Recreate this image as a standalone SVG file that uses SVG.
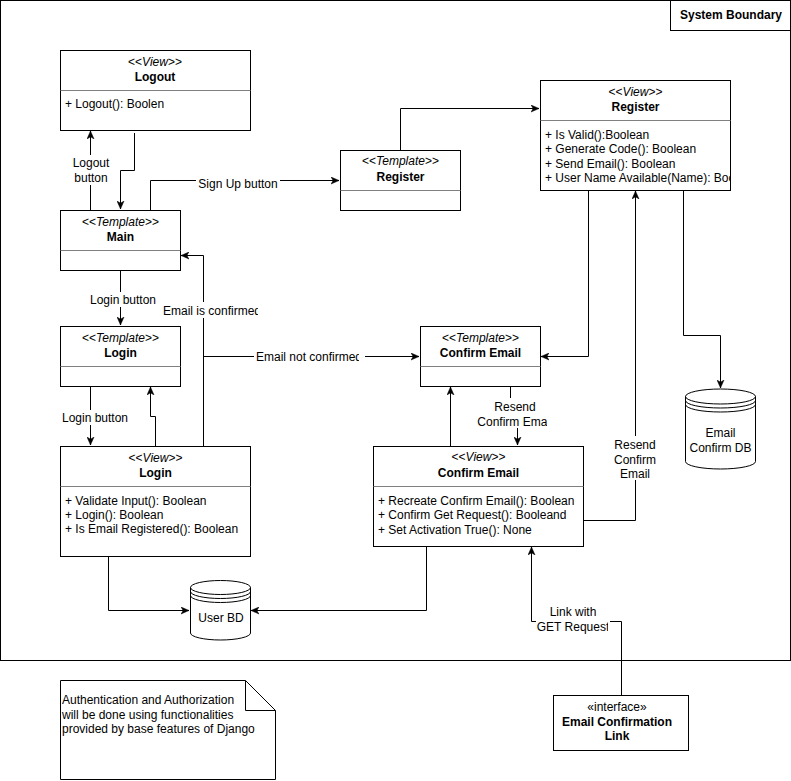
<svg xmlns="http://www.w3.org/2000/svg" width="791" height="781" viewBox="0 0 791 781">
<style>
.box{fill:#fff;stroke:#000;stroke-width:1}
.dv{stroke:#808080;stroke-width:1}
.t{font-family:"Liberation Sans",Arial,sans-serif;font-size:12px;fill:#000}
.c{text-anchor:middle}
.b{font-weight:bold}
.i{font-style:italic}
.edge{fill:none;stroke:#000;stroke-width:1;marker-end:url(#arr)}
.ln{fill:none;stroke:#000;stroke-width:1}
.bg{fill:#fff}
</style>
<defs>
<marker id="arr" markerUnits="userSpaceOnUse" markerWidth="9" markerHeight="8" refX="8" refY="4" orient="auto" viewBox="0 0 9 8">
<path d="M0,0.5 L8,4 L0,7.5 L2.2,4 Z" fill="#000" stroke="#000" stroke-width="0.5"/>
</marker>
<clipPath id="clipReg"><rect x="541" y="121" width="189" height="69"/></clipPath>
<clipPath id="clipConf"><rect x="160" y="300" width="98" height="20"/></clipPath>
<clipPath id="clipNot"><rect x="250" y="345" width="109" height="20"/></clipPath>
<clipPath id="clipEma"><rect x="470" y="410" width="77" height="18"/></clipPath>
<clipPath id="clipGet"><rect x="530" y="615" width="78" height="20"/></clipPath>
</defs>

<g id="system-boundary">
<rect x="0.5" y="0.5" width="790" height="660" fill="none" stroke="#000"/>
<rect x="670.5" y="0.5" width="120" height="30" class="box"/>
<text x="731" y="18.5" class="t c b">System Boundary</text>
</g>

<g id="connectors">
<path class="edge" d="M90.5,210 V131"/>
<rect class="bg" x="70" y="155" width="42" height="30"/>
<text x="91" y="167" class="t c">Logout</text>
<text x="91" y="181.5" class="t c">button</text>

<path class="edge" d="M134.5,133 V170.5 H120.5 V209"/>

<path class="edge" d="M150.5,210 V180.5 H339"/>
<rect class="bg" x="196" y="176" width="84" height="15"/>
<text x="238" y="188" class="t c">Sign Up button</text>

<path class="edge" d="M400.5,150 V108.5 H539"/>

<path class="edge" d="M120.5,270 V325"/>
<rect class="bg" x="88" y="292" width="70" height="15"/>
<text x="123" y="303.5" class="t c">Login button</text>

<path class="edge" d="M90.5,386 V445"/>
<rect class="bg" x="60" y="410" width="70" height="15"/>
<text x="95" y="422" class="t c">Login button</text>

<path class="edge" d="M155.5,446 V416.5 H150.5 V387"/>

<path class="edge" d="M203.5,446 V255.5 H181"/>
<rect class="bg" x="162" y="302" width="100" height="16"/>
<text x="163" y="314.5" class="t" clip-path="url(#clipConf)">Email is confirmed</text>

<path class="edge" d="M203.5,356.5 H419"/>
<rect class="bg" x="254" y="349" width="111" height="15"/>
<text x="256" y="360.5" class="t" clip-path="url(#clipNot)">Email not confirmed</text>

<path class="edge" d="M588.5,190 V356.5 H541"/>

<path class="edge" d="M583,520.5 H635.5 V191"/>
<rect class="bg" x="610" y="436" width="50" height="44"/>
<text x="635" y="449" class="t c">Resend</text>
<text x="635" y="463.5" class="t c">Confirm</text>
<text x="635" y="478" class="t c">Email</text>

<path class="edge" d="M683.5,190 V335.5 H720.5 V388"/>

<path class="edge" d="M510.5,386 V413 H517.5 V445"/>
<rect class="bg" x="475" y="398" width="76" height="30"/>
<text x="515" y="411" class="t c">Resend</text>
<text x="515" y="425.5" class="t c" clip-path="url(#clipEma)">Confirm Email</text>

<path class="edge" d="M450.5,446 V387"/>

<path class="edge" d="M108.5,556 V610.5 H189"/>
<path class="edge" d="M426.5,546 V610.5 H251"/>

<path class="edge" d="M621.5,695 V621.5 H531.5 V547"/>
<rect class="bg" x="536" y="603" width="74" height="31"/>
<text x="573" y="616" class="t c">Link with</text>
<text x="573" y="631" class="t c" clip-path="url(#clipGet)">GET Request</text>
</g>

<g id="logout-view">
<rect x="60.5" y="50.5" width="190" height="80" class="box"/>
<line x1="60.5" y1="90.5" x2="250.5" y2="90.5" class="dv"/>
<text x="155" y="66" class="t c">&lt;&lt;<tspan class="i">View</tspan>&gt;&gt;</text>
<text x="155" y="81" class="t c b">Logout</text>
<text x="65" y="108" class="t">+ Logout(): Boolen</text>
</g>

<g id="main-template">
<rect x="60.5" y="210.5" width="120" height="60" class="box"/>
<line x1="60.5" y1="250.5" x2="180.5" y2="250.5" class="dv"/>
<text x="120.5" y="226" class="t c">&lt;&lt;<tspan class="i">Template</tspan>&gt;&gt;</text>
<text x="120.5" y="241" class="t c b">Main</text>
</g>

<g id="register-template">
<rect x="340.5" y="150.5" width="120" height="60" class="box"/>
<line x1="340.5" y1="190.5" x2="460.5" y2="190.5" class="dv"/>
<text x="400.5" y="165" class="t c">&lt;&lt;<tspan class="i">Template</tspan>&gt;&gt;</text>
<text x="400.5" y="181" class="t c b">Register</text>
</g>

<g id="register-view">
<rect x="540.5" y="80.5" width="190" height="110" class="box"/>
<line x1="540.5" y1="120.5" x2="730.5" y2="120.5" class="dv"/>
<text x="635.5" y="96" class="t c">&lt;&lt;<tspan class="i">View</tspan>&gt;&gt;</text>
<text x="635.5" y="111" class="t c b">Register</text>
<g clip-path="url(#clipReg)">
<text x="545" y="138.5" class="t">+ Is Valid():Boolean</text>
<text x="545" y="153" class="t">+ Generate Code(): Boolean</text>
<text x="545" y="167.5" class="t">+ Send Email(): Boolean</text>
<text x="545" y="181.5" class="t">+ User Name Available(Name): Boolean</text>
</g>
</g>

<g id="login-template">
<rect x="60.5" y="326.5" width="120" height="60" class="box"/>
<line x1="60.5" y1="366.5" x2="180.5" y2="366.5" class="dv"/>
<text x="120.5" y="341.5" class="t c">&lt;&lt;<tspan class="i">Template</tspan>&gt;&gt;</text>
<text x="120.5" y="356.5" class="t c b">Login</text>
</g>

<g id="login-view">
<rect x="60.5" y="446.5" width="190" height="110" class="box"/>
<line x1="60.5" y1="486.5" x2="250.5" y2="486.5" class="dv"/>
<text x="155.5" y="462" class="t c">&lt;&lt;<tspan class="i">View</tspan>&gt;&gt;</text>
<text x="155.5" y="476.5" class="t c b">Login</text>
<text x="65" y="504.5" class="t">+ Validate Input(): Boolean</text>
<text x="65" y="518.5" class="t">+ Login(): Boolean</text>
<text x="65" y="533" class="t">+ Is Email Registered(): Boolean</text>
</g>

<g id="confirm-email-template">
<rect x="420.5" y="326.5" width="120" height="60" class="box"/>
<line x1="420.5" y1="366.5" x2="540.5" y2="366.5" class="dv"/>
<text x="480.5" y="342" class="t c">&lt;&lt;<tspan class="i">Template</tspan>&gt;&gt;</text>
<text x="480.5" y="357" class="t c b">Confirm Email</text>
</g>

<g id="confirm-email-view">
<rect x="373.5" y="446.5" width="210" height="100" class="box"/>
<line x1="373.5" y1="486.5" x2="583.5" y2="486.5" class="dv"/>
<text x="478.5" y="461" class="t c">&lt;&lt;<tspan class="i">View</tspan>&gt;&gt;</text>
<text x="478.5" y="477" class="t c b">Confirm Email</text>
<text x="378" y="505" class="t">+ Recreate Confirm Email(): Boolean</text>
<text x="378" y="518.5" class="t">+ Confirm Get Request(): Booleand</text>
<text x="378" y="533.5" class="t">+ Set Activation True(): None</text>
</g>

<g id="email-confirm-db">
<path class="box" d="M685.5,396.5 A35,7.5 0 0 1 755.5,396.5 V461.5 A35,7.5 0 0 1 685.5,461.5 Z"/>
<path class="ln" d="M685.5,396.5 A35,7.5 0 0 0 755.5,396.5 M685.5,400.5 A35,7.5 0 0 0 755.5,400.5 M685.5,404.5 A35,7.5 0 0 0 755.5,404.5"/>
<text x="720.5" y="437" class="t c">Email</text>
<text x="720.5" y="452" class="t c">Confirm DB</text>
</g>

<g id="user-db">
<path class="box" d="M190.5,587.5 A30,7 0 0 1 250.5,587.5 V633 A30,7 0 0 1 190.5,633 Z"/>
<path class="ln" d="M190.5,587.5 A30,7 0 0 0 250.5,587.5 M190.5,591.5 A30,7 0 0 0 250.5,591.5 M190.5,595.5 A30,7 0 0 0 250.5,595.5"/>
<text x="221" y="622" class="t c">User BD</text>
</g>

<g id="email-confirmation-link">
<rect x="553.5" y="695.5" width="135" height="55" class="box"/>
<text x="617" y="711" class="t c">«interface»</text>
<text x="617" y="726" class="t c b">Email Confirmation</text>
<text x="617" y="739.5" class="t c b">Link</text>
</g>

<g id="note">
<path class="box" d="M60.5,680.5 H245.5 L275.5,710.5 V779.5 H60.5 Z"/>
<path class="ln" d="M245.5,680.5 V710.5 H275.5"/>
<text x="62" y="704" class="t">Authentication and Authorization</text>
<text x="62" y="718.5" class="t">will be done using functionalities</text>
<text x="62" y="733" class="t">provided by base features of Django</text>
</g>
</svg>
